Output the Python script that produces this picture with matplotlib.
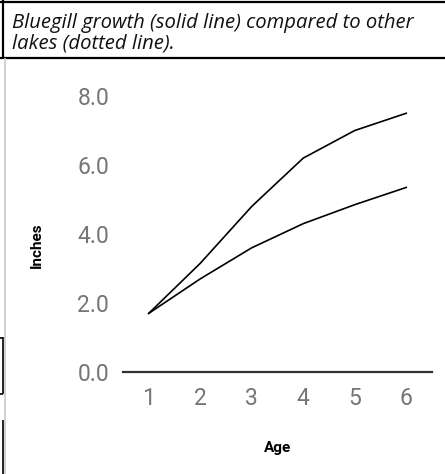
import matplotlib.pyplot as plt
from matplotlib.lines import Line2D

ages = [1, 2, 3, 4, 5, 6]
bluegill = [1.7, 3.15, 4.8, 6.2, 7.0, 7.5]
other_lakes = [1.7, 2.7, 3.6, 4.3, 4.85, 5.35]
y_ticks = [0.0, 2.0, 4.0, 6.0, 8.0]
caption_lines = ["Bluegill growth (solid line) compared to other",
                 "lakes (dotted line)."]

W, H = 445, 474
fig = plt.figure(figsize=(W / 100, H / 100), dpi=100)


def px(x, y):
    return x / W, 1 - y / H


# caption box and page borders
def fline(x0, y0, x1, y1, color="black", lw=1.6):
    a, b = px(x0, y0)
    c, d = px(x1, y1)
    fig.add_artist(Line2D([a, c], [b, d], transform=fig.transFigure,
                          color=color, lw=lw, solid_capstyle="butt"))


fline(0, 1.5, W, 1.5)
fline(0, 58, W, 58)
fline(3, 0, 3, 58)
fline(4.5, 58, 4.5, H, color="#c8c8c8", lw=1.2)
fline(0, 337.5, 3, 337.5, lw=1.2)
fline(2.5, 337, 2.5, 394, lw=1.2)
fline(0, 393.5, 3, 393.5, lw=1.2)
fline(2.5, 420, 2.5, H, lw=1.2)

for i, line in enumerate(caption_lines):
    fig.text(12 / W, 1 - (28 + 20.5 * i) / H, line,
             family=["Open Sans", "DejaVu Sans"], style="italic",
             fontsize=14.6, va="baseline", ha="left", color="#111111")

left, right = 123 / W, 432 / W
bottom, top = 1 - 372 / H, 1 - 96 / H
ax = fig.add_axes([left, bottom, right - left, top - bottom])

ax.plot(ages, bluegill, color="black", lw=1.2)
ax.plot(ages, other_lakes, color="black", lw=1.2)

ax.set_xlim(0.5, 6.5)
ax.set_ylim(0, 8)
ax.set_xticks(ages)
ax.set_yticks(y_ticks)
ax.set_yticklabels([f"{v:.1f}" for v in y_ticks])
for s in ["top", "right", "left"]:
    ax.spines[s].set_visible(False)
ax.spines["bottom"].set_color("#333333")
ax.spines["bottom"].set_linewidth(1.6)
ax.tick_params(length=0, labelsize=16.5, labelcolor="#757575")
ax.tick_params(axis="x", pad=11)
ax.tick_params(axis="y", pad=10)
for lab in ax.get_xticklabels() + ax.get_yticklabels():
    lab.set_family("Roboto")
ax.patch.set_alpha(0)

ax.set_xlabel("Age", family="Roboto", fontweight="bold", fontsize=11)
ax.set_ylabel("Inches", family="Roboto", fontweight="bold", fontsize=11)
ax.xaxis.set_label_coords(0.5, -(448 - 372) / (372 - 96))
ax.yaxis.set_label_coords(-(123 - 37) / (432 - 123), (372 - 245) / (372 - 96))
ax.xaxis.label.set_va("center")
ax.yaxis.label.set_va("center")

fig.savefig("out.png", dpi=100)
